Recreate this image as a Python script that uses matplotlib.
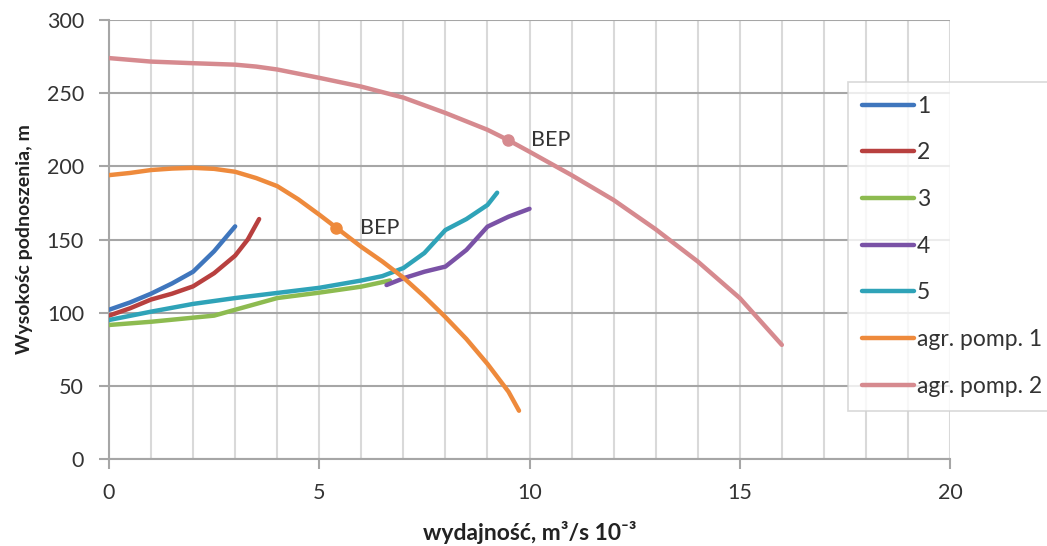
"""Pump curves: head vs. flow for five pumps and two pump units."""

import matplotlib
matplotlib.use("Agg")
import matplotlib.pyplot as plt
from matplotlib.ticker import MultipleLocator

plt.rcParams["font.family"] = ["Lato", "DejaVu Sans"]

# --- data ------------------------------------------------------------------
x_p1 = [0, 0.5, 1, 1.5, 2, 2.5, 3]
y_p1 = [102, 107, 113, 120, 128, 142, 159]

x_p2 = [0, 0.5, 1, 1.5, 2, 2.5, 3, 3.3, 3.57]
y_p2 = [98, 103, 109, 113, 118, 127, 139, 150, 164]

x_p3 = [0, 1, 2, 2.5, 3, 3.5, 4, 5, 6, 6.68]
y_p3 = [91.6, 93.8, 96.6, 98, 102, 106, 110, 113.7, 117.8, 122]

x_p4 = [6.6, 7, 7.5, 8, 8.5, 9, 9.5, 10.0]
y_p4 = [118.9, 123.5, 128, 131.5, 142.9, 158.8, 165.6, 171]

x_p5 = [0, 1, 2, 3, 4, 5, 6, 6.5, 7, 7.5, 8, 8.5, 9, 9.23]
y_p5 = [95, 100.7, 106, 110, 113.5, 117, 122, 125, 130.5, 140.8, 156.5, 164, 173.6, 182]

x_agr1 = [0, 0.5, 1, 1.5, 2, 2.5, 3, 3.5, 4, 4.5, 5, 5.41, 6, 6.5, 7, 7.5, 8, 8.5, 9, 9.5, 9.75]
y_agr1 = [194, 195.5, 197.5, 198.5, 199, 198.3, 196.3, 192, 186.5, 177.5, 167, 158, 145, 135, 124, 111, 97, 82, 65, 46, 33]

x_agr2 = [0, 1, 2, 3, 3.5, 4, 5, 6, 7, 8, 9, 9.49, 10, 11, 12, 13, 14, 15, 16]
y_agr2 = [274, 271.6, 270.5, 269.5, 268.2, 266.2, 260.5, 254.5, 247, 236.5, 225, 218, 210, 194, 177, 157, 135, 110, 78]

bep_x = [5.41, 9.49]
bep_y = [158, 218]

labels = ["1", "2", "3", "4", "5", "agr. pomp. 1", "agr. pomp. 2"]
colors = ["#3f76bd", "#b8403f", "#8dbb50", "#7a52a6", "#2fa3b8", "#ee8a3c", "#d68a8f"]

# --- figure -------------------------------------------------------------------
fig = plt.figure(figsize=(10.47, 5.46), dpi=100)
ax = fig.add_axes([0.1041, 0.1593, 0.8033, 0.8040])

series = [(x_p1, y_p1), (x_p2, y_p2), (x_p3, y_p3), (x_p4, y_p4),
          (x_p5, y_p5), (x_agr1, y_agr1), (x_agr2, y_agr2)]
handles = []
for (xs, ys), lab, col in zip(series, labels, colors):
    h, = ax.plot(xs, ys, color=col, lw=3.2, label=lab,
                 solid_capstyle="round", solid_joinstyle="round", zorder=3)
    handles.append(h)

# BEP markers
ax.plot(bep_x[0], bep_y[0], "o", color=colors[5], ms=8, zorder=4)
ax.plot(bep_x[1], bep_y[1], "o", color=colors[6], ms=8, zorder=4)
ax.text(bep_x[0] + 0.55, bep_y[0], "BEP", fontsize=15.5, color="#333333",
        va="center", ha="left")
ax.text(bep_x[1] + 0.55, bep_y[1], "BEP", fontsize=15.5, color="#333333",
        va="center", ha="left")

ax.set_xlim(0, 20)
ax.set_ylim(0, 300)
ax.xaxis.set_major_locator(MultipleLocator(5))
ax.xaxis.set_minor_locator(MultipleLocator(1))
ax.yaxis.set_major_locator(MultipleLocator(50))

ax.grid(True, axis="x", which="both", color="#d9d9d9", lw=1.5)
ax.grid(True, axis="y", which="major", color="#a6a6a6", lw=1.5)
ax.set_axisbelow(True)

for side in ("top", "right"):
    ax.spines[side].set_visible(False)
for side in ("left", "bottom"):
    ax.spines[side].set_color("#a6a6a6")
    ax.spines[side].set_linewidth(1.5)

ax.tick_params(axis="both", which="major", direction="out", length=7,
               width=1.5, color="#a6a6a6", labelsize=15.5, labelcolor="#333333")
ax.tick_params(axis="x", which="major", pad=10)
ax.tick_params(axis="y", which="major", pad=11)
ax.tick_params(axis="x", which="minor", length=0)

ax.set_xlabel("wydajność, m³/s 10⁻³", fontsize=16.5, fontweight="bold",
              color="#222222", labelpad=13)
ax.set_ylabel("Wysokośc podnoszenia, m", fontsize=14, fontweight="bold",
              color="#222222", labelpad=10)

leg = fig.legend(handles=handles, loc="upper left",
                 bbox_to_anchor=(848 / 1047, 1 - 82 / 546), borderaxespad=0,
                 fontsize=16.5, handlelength=2.3, handletextpad=0.1,
                 labelspacing=1.12, borderpad=0.6, frameon=True, fancybox=False)
leg.get_frame().set_edgecolor("#d0d0d0")
leg.get_frame().set_linewidth(1.2)
for t in leg.get_texts():
    t.set_color("#333333")

fig.savefig("out.png", dpi=100)
